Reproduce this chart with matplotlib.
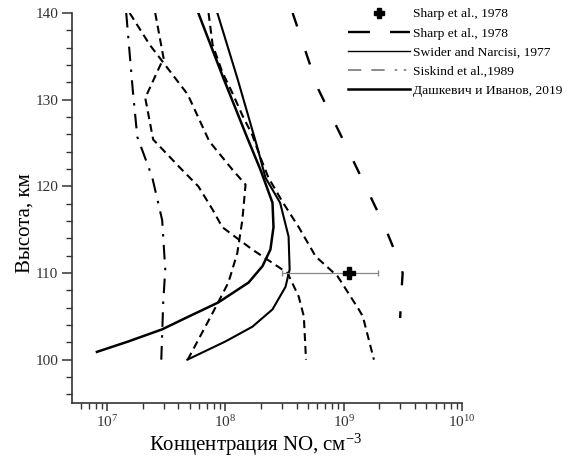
import numpy as np
import matplotlib
matplotlib.use("Agg")
import matplotlib.pyplot as plt
from matplotlib.lines import Line2D
from matplotlib.ticker import MultipleLocator, LogLocator

plt.rcParams['font.family'] = ['Liberation Serif', 'DejaVu Serif']
plt.rcParams['mathtext.fontset'] = 'custom'
plt.rcParams['mathtext.rm'] = 'Liberation Serif'
plt.rcParams['mathtext.it'] = 'Liberation Serif:italic'

# Sharp et al., 1978 - single point with error bar
sharp_pt_h = 110
sharp_pt_x = 1.1e9
sharp_err_lo = 3.0e8
sharp_err_hi = 1.95e9

# Sharp et al., 1978 - long dashed profile
sharp_h = [140, 131.2, 123.0, 115.5, 112, 110, 107, 104.8]
sharp_x = [3.7e8, 6.1e8, 1.2e9, 2.2e9, 2.8e9, 3.15e9, 3.05e9, 3.0e9]

# Swider and Narcisi, 1977 (thin solid)
swider_h = [140, 132.5, 124.4, 121, 118.1, 114.2, 110.4, 108.4, 105.8, 103.8, 102.1, 100]
swider_x = [8.55e7, 1.26e8, 1.87e8, 2.18e8, 2.9e8, 3.42e8, 3.49e8, 3.22e8, 2.5e8, 1.69e8, 1.0e8, 4.77e7]

# Дашкевич и Иванов, 2019 (thick solid)
dash_h = [140, 132.5, 125.6, 121.9, 118.1, 115.3, 112.7, 110.8, 108.9, 106.6, 104.8, 103.5, 102.1, 100.9]
dash_x = [5.9e7, 9.6e7, 1.53e8, 1.98e8, 2.5e8, 2.55e8, 2.4e8, 2.06e8, 1.57e8, 8.7e7, 4.6e7, 2.92e7, 1.51e7, 8.2e6]

# Siskind et al., 1989 (dash-dot)
sisk_dd_h = [140, 131, 125.7, 121.1, 116.1, 110.4, 106.6, 100]
sisk_dd_x = [1.45e7, 1.65e7, 1.8e7, 2.4e7, 2.92e7, 3.1e7, 2.98e7, 2.87e7]

# short dashed profiles
sd1_h = [140, 136.3, 130.6, 125.2, 121.9, 120.2, 116.1, 112.3, 108.9, 105.4, 100]
sd1_x = [1.55e7, 2.3e7, 4.8e7, 7.3e7, 1.15e8, 1.48e8, 1.39e8, 1.26e8, 1.06e8, 7.8e7, 4.8e7]

sd2_h = [140, 134.8, 130.2, 125.4, 121.9, 120, 117.3, 115.3, 114.4, 112.7, 110, 107.3, 105, 100]
sd2_x = [2.55e7, 3.0e7, 2.1e7, 2.45e7, 4.3e7, 5.9e7, 7.8e7, 9.4e7, 1.15e8, 1.69e8, 3.35e8, 4.16e8, 4.6e8, 4.8e8]

sd3_h = [140, 136.3, 133.2, 130.5, 128.2, 125.9, 123.3, 121, 118.2, 115.3, 111.9, 109.6, 105.8, 105, 100]
sd3_x = [7.2e7, 7.8e7, 9.4e7, 1.17e8, 1.39e8, 1.69e8, 1.98e8, 2.31e8, 3.04e8, 4.16e8, 5.8e8, 8.9e8, 1.34e9, 1.45e9, 1.8e9]

fig = plt.figure(figsize=(5.73, 4.59), dpi=100)
ax = fig.add_axes([0.1257, 0.122, 0.6806, 0.8497])

short_dash = (0, (3.8, 2.4))
ax.plot(sd1_x, sd1_h, color='k', lw=1.5, ls=short_dash)
ax.plot(sd2_x, sd2_h, color='k', lw=1.5, ls=short_dash)
ax.plot(sd3_x, sd3_h, color='k', lw=1.5, ls=short_dash)
ax.plot(sisk_dd_x, sisk_dd_h, color='k', lw=1.5, ls=(0, (7, 4, 1.2, 4)))
ax.plot(sharp_x, sharp_h, color='k', lw=1.7, ls=(0, (6, 11)))
ax.plot(swider_x, swider_h, color='k', lw=1.5)
ax.plot(dash_x, dash_h, color='k', lw=1.8)

ax.errorbar([sharp_pt_x], [sharp_pt_h],
            xerr=[[sharp_pt_x - sharp_err_lo], [sharp_err_hi - sharp_pt_x]],
            fmt='none', ecolor='#888888', elinewidth=0.9, capsize=2.5)
ax.plot([sharp_pt_x], [sharp_pt_h], marker='P', color='k', ms=9, ls='none')

ax.set_xscale('log')
ax.set_xlim(5.05e6, 1e10)
ax.set_ylim(95, 140)

ax.spines['top'].set_visible(False)
ax.spines['right'].set_visible(False)
for s in ['left', 'bottom']:
    ax.spines[s].set_linewidth(1.2)
    ax.spines[s].set_color('#333333')

ax.yaxis.set_major_locator(MultipleLocator(10))
ax.yaxis.set_minor_locator(MultipleLocator(2))
ax.set_yticks([100, 110, 120, 130, 140])
ax.xaxis.set_major_locator(LogLocator(base=10, numticks=10))
ax.xaxis.set_minor_locator(LogLocator(base=10, subs=np.arange(2, 10), numticks=20))
ax.tick_params(axis='both', which='major', length=7, width=1.1, color='#333333',
               labelsize=11, labelcolor='#333333', pad=3)
ax.tick_params(axis='x', which='major', length=6, pad=2)
ax.tick_params(axis='both', which='minor', length=4, width=1.0, color='#333333')

ax.set_xlabel('Концентрация NO, см$^{-3}$', fontsize=15)
ax.set_ylabel('Высота, км', fontsize=15, va='center')
ax.xaxis.set_label_coords(0.47, -0.075)
ax.yaxis.set_label_coords(-0.12, 0.46)

handles = [
    Line2D([], [], color='k', marker='P', ms=7, ls='none'),
    Line2D([], [], color='k', lw=1.7, ls=(0, (9.3, 8.5))),
    Line2D([], [], color='k', lw=1.0),
    Line2D([], [], color='#777777', lw=1.2, ls=(0, (8, 6, 8, 6, 1.5, 4, 1.5, 4))),
    Line2D([], [], color='k', lw=1.8),
]
labels = ['Sharp et al., 1978', 'Sharp et al., 1978', 'Swider and Narcisi, 1977',
          'Siskind et al.,1989', 'Дашкевич и Иванов, 2019']
ax.legend(handles, labels, loc='upper left', bbox_to_anchor=(0.708, 1.013),
          frameon=False, fontsize=9.7, handlelength=4.6, handletextpad=0.2,
          borderpad=0, borderaxespad=0, labelspacing=0.5)

fig.savefig('out.png', dpi=100)
